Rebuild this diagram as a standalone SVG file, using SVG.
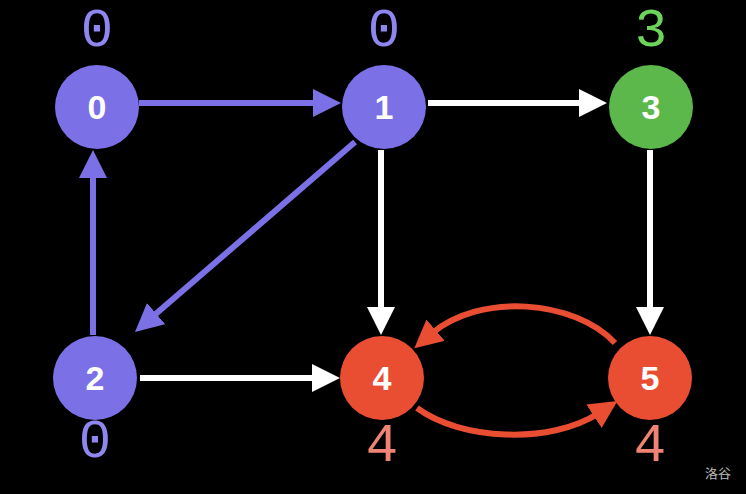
<svg xmlns="http://www.w3.org/2000/svg" width="746" height="494" viewBox="0 0 746 494">
<style>
.edge{fill:none;stroke-width:6}
.p{stroke:#7b70e6}
.w{stroke:#ffffff}
.r{stroke:#e94e33}
.nt{font-family:"Liberation Sans",Arial,sans-serif;font-weight:bold;font-size:34px;fill:#ffffff;text-anchor:middle;dominant-baseline:central}
.lab{font-family:"Liberation Mono","DejaVu Sans Mono",monospace;font-size:54px;text-anchor:middle;dominant-baseline:central}
</style>
<defs>
<marker id="ap" markerUnits="userSpaceOnUse" markerWidth="30" markerHeight="30" refX="6" refY="14" orient="auto"><path d="M0,0 L28,14 L0,28 z" fill="#7b70e6"/></marker>
<marker id="aw" markerUnits="userSpaceOnUse" markerWidth="30" markerHeight="30" refX="6" refY="14" orient="auto"><path d="M0,0 L28,14 L0,28 z" fill="#ffffff"/></marker>
<marker id="ar" markerUnits="userSpaceOnUse" markerWidth="30" markerHeight="30" refX="6" refY="14" orient="auto"><path d="M0,0 L28,14 L0,28 z" fill="#e94e33"/></marker>
</defs>
<rect width="746" height="494" fill="#000000"/>
<g id="edges">
<path class="edge p" d="M139,103 L319,103" marker-end="url(#ap)"/>
<path class="edge w" d="M428,103 L585,103" marker-end="url(#aw)"/>
<path class="edge w" d="M140,378 L318,378" marker-end="url(#aw)"/>
<path class="edge w" d="M381,150 L381,313" marker-end="url(#aw)"/>
<path class="edge w" d="M650,150 L650,313" marker-end="url(#aw)"/>
<path class="edge p" d="M93,335 L93,172" marker-end="url(#ap)"/>
<path class="edge p" d="M355,142 L151.6,317.6" marker-end="url(#ap)"/>
<path class="edge r" d="M615,343 C575,300 480,292 431,334" marker-end="url(#ar)"/>
<path class="edge r" d="M417,408 C460,440 550,445 599,413" marker-end="url(#ar)"/>
</g>
<g id="node0"><circle cx="97" cy="107" r="42" fill="#7b70e6"/><text class="nt" x="97" y="107">0</text><text class="lab" x="97" y="31" fill="#8f86f0">0</text></g>
<g id="node1"><circle cx="384" cy="107" r="42" fill="#7b70e6"/><text class="nt" x="384" y="107">1</text><text class="lab" x="384" y="31" fill="#8f86f0">0</text></g>
<g id="node3"><circle cx="651" cy="107" r="42" fill="#5cb84b"/><text class="nt" x="651" y="107">3</text><text class="lab" x="651" y="31" fill="#6cd45a">3</text></g>
<g id="node2"><circle cx="95" cy="378" r="42" fill="#7b70e6"/><text class="nt" x="95" y="378">2</text><text class="lab" x="95" y="442" fill="#8f86f0">0</text></g>
<g id="node4"><circle cx="382" cy="378" r="42" fill="#e94e33"/><text class="nt" x="382" y="378">4</text><text class="lab" x="382" y="446" fill="#f08474">4</text></g>
<g id="node5"><circle cx="650" cy="378" r="42" fill="#e94e33"/><text class="nt" x="650" y="378">5</text><text class="lab" x="650" y="446" fill="#f08474">4</text></g>
<text x="718" y="472" font-family="'Noto Sans CJK SC',sans-serif" font-size="13" fill="#bbbbbb" text-anchor="middle" dominant-baseline="central">洛谷</text>
</svg>
